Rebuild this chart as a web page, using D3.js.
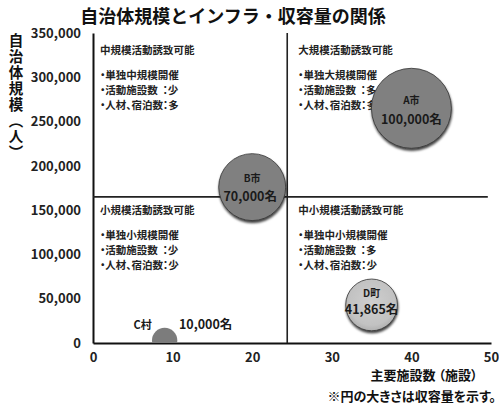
<!DOCTYPE html>
<html lang="ja">
<head>
<meta charset="utf-8">
<script src="https://cdn.jsdelivr.net/npm/d3@7"></script>
<style>
  html, body { margin: 0; padding: 0; background: #fff; }
  svg { display: block; font-family: "Noto Sans CJK JP", "Noto Sans", sans-serif; font-weight: 700; }
  .jp { font-feature-settings: "palt"; }
</style>
</head>
<body>
<svg id="chart" width="499" height="412"></svg>
<script>
// Municipalities: main facilities (x), population (y), event capacity (bubble area)
const towns = ["A市", "B市", "C村", "D町"];
const facilities = [40, 20, 9, 35];
const population = [265000, 176000, 3000, 43000];
const capacity = [100000, 70000, 10000, 41865];

const xTicks = [0, 10, 20, 30, 40, 50];
const yTicks = [0, 50000, 100000, 150000, 200000, 250000, 300000, 350000];

// Quadrant boundaries
const splitFacilities = 24.4;
const splitPopulation = 165000;

// Quadrant captions: heading and bullet lines (top-left, top-right, bottom-left, bottom-right)
const quadHeadings = ["中規模活動誘致可能", "大規模活動誘致可能", "小規模活動誘致可能", "中小規模活動誘致可能"];
const quadBullets = [
  ["・単独中規模開催", "・活動施設数  ：少", "・人材、宿泊数：多"],
  ["・単独大規模開催", "・活動施設数  ：多", "・人材、宿泊数：多"],
  ["・単独小規模開催", "・活動施設数  ：少", "・人材、宿泊数：少"],
  ["・単独中小規模開催", "・活動施設数  ：多", "・人材、宿泊数：少"]
];

const svg = d3.select("#chart");
const x = d3.scaleLinear().domain([0, 50]).range([93, 491]);
const y = d3.scaleLinear().domain([0, 350000]).range([343, 33]);
const r = d3.scaleSqrt().domain([0, 100000]).range([0, 40]);

const defs = svg.append("defs");
const shadow = defs.append("filter").attr("id", "shadow")
  .attr("x", "-30%").attr("y", "-30%").attr("width", "160%").attr("height", "160%");
shadow.append("feDropShadow").attr("dx", 0.5).attr("dy", 2.2)
  .attr("stdDeviation", 1.2).attr("flood-color", "#000").attr("flood-opacity", 0.75);
const grad = defs.append("radialGradient").attr("id", "light").attr("cx", "50%").attr("cy", "45%").attr("r", "55%");
grad.append("stop").attr("offset", "0%").attr("stop-color", "#cfcfcf");
grad.append("stop").attr("offset", "80%").attr("stop-color", "#c2c2c2");
grad.append("stop").attr("offset", "100%").attr("stop-color", "#b0b0b0");
defs.append("clipPath").attr("id", "plot").append("rect")
  .attr("x", x(0)).attr("y", 0).attr("width", x(50) - x(0) + 10).attr("height", y(0));

// Title
svg.append("text")
  .attr("x", 233).attr("y", 23).attr("text-anchor", "middle")
  .attr("font-size", 18).attr("fill", "#111")
  .text("自治体規模とインフラ・収容量の関係");

// Axis title (vertical)
svg.append("text")
  .attr("x", 16).attr("y", 33)
  .attr("font-size", 14.5).attr("fill", "#111")
  .attr("letter-spacing", 1.5)
  .style("writing-mode", "vertical-rl")
  .text("自治体規模（人）");

svg.append("text").attr("class", "jp")
  .attr("x", 424).attr("y", 380).attr("text-anchor", "middle")
  .attr("font-size", 13).attr("fill", "#111")
  .text("主要施設数 （施設）");

svg.append("text").attr("class", "jp")
  .attr("x", 496).attr("y", 401).attr("text-anchor", "end")
  .attr("font-size", 13).attr("fill", "#111")
  .text("※円の大きさは収容量を示す。");

// Axes
const yAxis = svg.append("g").attr("transform", `translate(${x(0)},0)`)
  .call(d3.axisLeft(y).tickValues(yTicks).tickSize(0).tickPadding(12).tickFormat(d3.format(",")));
const xAxis = svg.append("g").attr("transform", `translate(0,${y(0)})`)
  .call(d3.axisBottom(x).tickValues(xTicks).tickSize(0).tickPadding(10));
[yAxis, xAxis].forEach(g => {
  g.select(".domain").attr("stroke", "#111").attr("stroke-width", 2);
  g.selectAll("text").attr("font-family", "'Noto Sans CJK JP', sans-serif")
    .attr("font-weight", 700).attr("font-size", 13).attr("fill", "#222");
});

// Quadrant dividers
svg.append("line")
  .attr("x1", x(splitFacilities)).attr("x2", x(splitFacilities))
  .attr("y1", y(350000)).attr("y2", y(0))
  .attr("stroke", "#222").attr("stroke-width", 1.6);
svg.append("line")
  .attr("x1", x(0)).attr("x2", x(49.6))
  .attr("y1", y(splitPopulation)).attr("y2", y(splitPopulation))
  .attr("stroke", "#222").attr("stroke-width", 1.6);

// Quadrant captions
const quadAnchors = [
  [x(0) + 7, y(350000) + 21],
  [x(splitFacilities) + 11, y(350000) + 21],
  [x(0) + 7, y(splitPopulation) + 17],
  [x(splitFacilities) + 11, y(splitPopulation) + 17]
];
quadHeadings.forEach((h, i) => {
  const [ax, ay] = quadAnchors[i];
  const g = svg.append("g").attr("fill", "#222").attr("font-size", 10.5);
  g.append("text").attr("x", ax).attr("y", ay).text(h);
  quadBullets[i].forEach((line, j) => {
    g.append("text").attr("class", "jp").attr("x", ax).attr("y", ay + 25 + j * 15.2)
      .attr("xml:space", "preserve").style("white-space", "pre").text(line);
  });
});

// Bubbles
const fills = ["#808080", "#808080", "#7c7c7c", "url(#light)"];
const bubbles = svg.append("g").attr("clip-path", "url(#plot)");
towns.forEach((t, i) => {
  const c = bubbles.append("circle")
    .attr("cx", x(facilities[i])).attr("cy", y(population[i]))
    .attr("r", r(capacity[i])).attr("fill", fills[i]);
  if (t !== "C村") c.attr("stroke", "#333").attr("stroke-width", 0.8).attr("filter", "url(#shadow)");
});

// Bubble labels: name and capacity
const fmt = d3.format(",");
const labelOffsets = {
  "A市": { name: [0, -4], value: [0, 16] },
  "B市": { name: [0, -5], value: [-2, 14] },
  "D町": { name: [0, -8], value: [0, 9.5] },
  "C村": { name: [-22, -11], value: [41, -11] }
};
towns.forEach((t, i) => {
  const cx = x(facilities[i]), cy = y(population[i]);
  const o = labelOffsets[t];
  const g = svg.append("g").attr("class", "jp").attr("fill", "#1a1a1a").attr("text-anchor", "middle");
  g.append("text").attr("x", cx + o.name[0]).attr("y", cy + o.name[1])
    .attr("font-size", t === "C村" ? 11 : 10).text(t);
  g.append("text").attr("x", cx + o.value[0]).attr("y", cy + o.value[1])
    .attr("font-size", 12.5).text(fmt(capacity[i]) + "名");
});
</script>
</body>
</html>
